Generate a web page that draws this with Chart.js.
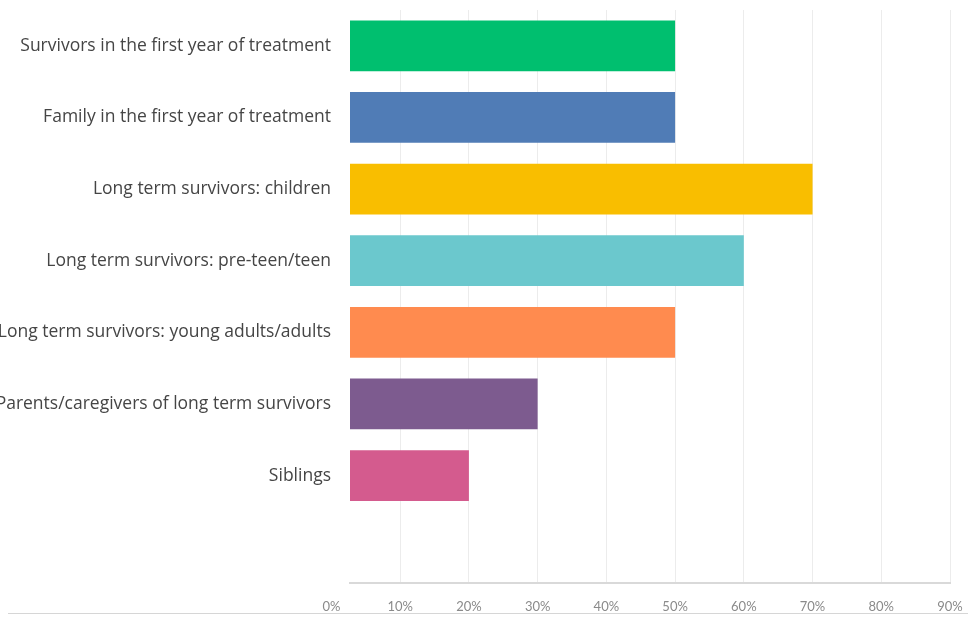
<!DOCTYPE html>
<html>
<head>
<meta charset="utf-8">
<script src="https://cdn.jsdelivr.net/npm/chart.js@4"></script>
<style>
    body { margin: 0; background: #fff; }
    #wrap { position: relative; width: 968px; height: 618px; overflow: hidden; }
    #bottomRule { position: absolute; left: 8px; right: 0; top: 613px; border-top: 1px solid #d6d6d6; }
</style>
</head>
<body>
<div id="wrap">
    <canvas id="surveyChart"></canvas>
    <div id="bottomRule"></div>
</div>
<script>
// categories (last row is empty in the original)
const categories = [
    "Survivors in the first year of treatment",
    "Family in the first year of treatment",
    "Long term survivors: children",
    "Long term survivors: pre-teen/teen",
    "Long term survivors: young adults/adults",
    "Parents/caregivers of long term survivors",
    "Siblings",
    ""
];
const percentValues = [50, 50, 70, 60, 50, 30, 20, null];
const barColors = ["#00bf6f", "#507cb6", "#f9be00", "#6bc8cd", "#ff8b4f", "#7d5b8f", "#d45b8e", "#ffffff"];
const tickValues = [0, 10, 20, 30, 40, 50, 60, 70, 80, 90];

const ctx = document.getElementById('surveyChart').getContext('2d');
const chart = new Chart(ctx, {
    type: 'bar',
    data: {
        labels: categories,
        datasets: [{
            data: percentValues,
            backgroundColor: barColors,
            borderWidth: 0,
            categoryPercentage: 1,
            barPercentage: 0.71
        }]
    },
    options: {
        indexAxis: 'y',
        responsive: true,
        maintainAspectRatio: false,
        animation: false,
        layout: {
            padding: { top: 10, right: 18, bottom: 0, left: 0 }
        },
        plugins: {
            legend: { display: false },
            tooltip: { enabled: false }
        },
        scales: {
            x: {
                min: 2.7, // the screenshot is cropped just right of the 0% line
                max: 90,
                afterBuildTicks: function(axis) {
                    axis.ticks = tickValues.map(v => ({ value: v }));
                },
                afterFit: function(axis) {
                    axis.paddingLeft = 0;
                    axis.paddingRight = 0;
                    axis.height = 35;
                },
                ticks: {
                    autoSkip: false,
                    maxRotation: 0,
                    padding: 16,
                    color: '#8a8a8a',
                    font: { family: 'Lato', size: 13 },
                    callback: v => v + '%'
                },
                grid: {
                    drawTicks: false,
                    color: c => (c.tick && c.tick.value === 0) ? 'rgba(0,0,0,0)' : '#ececec',
                    lineWidth: 1
                },
                border: { display: true, color: '#d9d9d9', width: 2 }
            },
            y: {
                afterFit: function(axis) {
                    axis.width = 350; // long labels run off the left edge, as in the original
                    axis.paddingTop = 0;
                    axis.paddingBottom = 0;
                },
                ticks: {
                    padding: 11,
                    color: '#454545',
                    font: { family: 'Open Sans', size: 17.5 }
                },
                grid: { display: false },
                border: { display: false }
            }
        }
    }
});
</script>
</body>
</html>
